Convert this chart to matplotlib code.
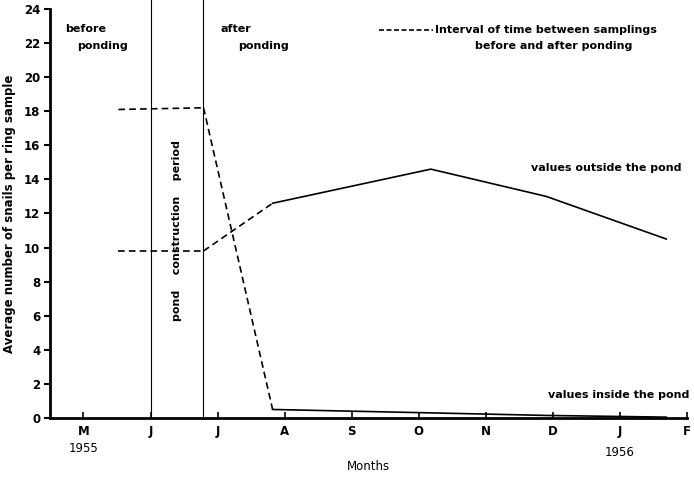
import matplotlib
matplotlib.use("Agg")
import matplotlib.pyplot as plt

# month positions: M=0 (May 1955) ... F=9 (Feb 1956)
months = ["M", "J", "J", "A", "S", "O", "N", "D", "J", "F"]
month_pos = list(range(len(months)))

# dashed: interval between samplings before and after ponding
before_x = [0.52, 1.79]
upper_dash_y = [18.1, 18.2]
lower_dash_y = [9.8, 9.8]
gap_x = [1.79, 2.82]
upper_gap_y = [18.2, 0.5]
lower_gap_y = [9.8, 12.6]

# solid: after ponding
after_x = [2.82, 5.18, 6.9, 8.69]
outside_y = [12.6, 14.6, 13.0, 10.5]
inside_y = [0.5, 0.3, 0.15, 0.05]

construction = [1.0, 1.78]

INK = "black"
FS = 8

fig = plt.figure(figsize=(6.94, 4.87), dpi=100)
ax = fig.add_axes([0.072, 0.1417, 0.918, 0.840])

dash = dict(color=INK, lw=1.2, ls=(0, (4, 2.5)))
ax.plot(before_x, upper_dash_y, **dash)
ax.plot(before_x, lower_dash_y, **dash)
ax.plot(gap_x, upper_gap_y, **dash)
ax.plot(gap_x, lower_gap_y, **dash)
ax.plot(after_x, outside_y, color=INK, lw=1.2)
ax.plot(after_x, inside_y, color=INK, lw=1.2)

for xv in construction:
    ax.plot([xv, xv], [0, 24.6], color=INK, lw=0.8, clip_on=False)

ax.set_xlim(-0.5, 9.0)
ax.set_ylim(0, 24)
ax.spines["top"].set_visible(False)
ax.spines["right"].set_visible(False)
ax.spines["left"].set_linewidth(2)
ax.spines["bottom"].set_linewidth(2)

ax.set_yticks(range(0, 25, 2))
ax.set_xticks(month_pos)
ax.set_xticklabels(months)
ax.tick_params(axis="y", direction="out", length=4, width=1.5, labelsize=8.5, pad=3)
ax.tick_params(axis="x", direction="in", length=4, width=1.2, labelsize=8.5, pad=5)
for lab in ax.get_xticklabels() + ax.get_yticklabels():
    lab.set_fontweight("bold")

ax.text(0, -1.77, "1955", ha="center", va="center", fontsize=8.5)
ax.text(8, -2.0, "1956", ha="center", va="center", fontsize=8.5)
ax.set_xlabel("Months", fontsize=8.5, labelpad=16)
ax.set_ylabel("Average number of snails per ring sample", fontsize=8.5,
              fontweight="bold", labelpad=6)

txt = dict(fontsize=FS, fontweight="bold", color=INK)
ax.text(-0.27, 22.8, "before", ha="left", va="center", **txt)
ax.text(-0.09, 21.85, "ponding", ha="left", va="center", **txt)
ax.text(2.05, 22.8, "after", ha="left", va="center", **txt)
ax.text(2.30, 21.85, "ponding", ha="left", va="center", **txt)
ax.text(1.39, 11.0, "pond    construction    period", rotation=90,
        ha="center", va="center", **txt)

ax.plot([4.40, 5.21], [22.77, 22.77], color=INK, lw=1.2, ls=(0, (3, 1.5)))
ax.text(5.24, 22.77, "Interval of time between samplings", ha="left",
        va="center", **txt)
ax.text(7.01, 21.83, "before and after ponding", ha="center", va="center", **txt)
ax.text(8.91, 14.67, "values outside the pond", ha="right", va="center", **txt)
ax.text(9.03, 1.35, "values inside the pond", ha="right", va="center", **txt)

fig.savefig("out.png", dpi=100)
